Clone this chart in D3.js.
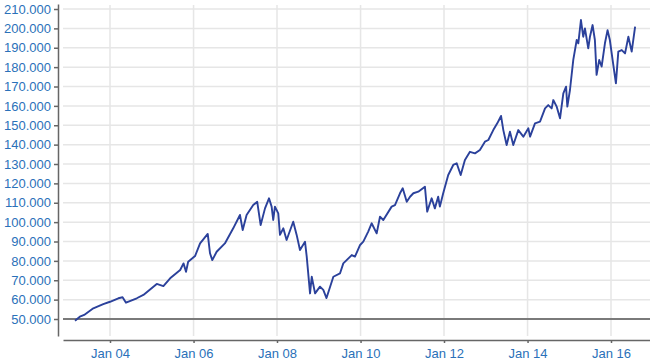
<!DOCTYPE html>
<html>
<head>
<meta charset="utf-8">
<script src="https://cdn.jsdelivr.net/npm/d3@7"></script>
<style>
  body { margin: 0; background: #fff; }
  .tick text { font-family: "Liberation Sans", Arial, sans-serif; font-size: 13px; fill: #2a71b9; }
</style>
</head>
<body>
<div id="chart"></div>
<script>
// values
const dates = [
    '2003-03-01','2003-04-12','2003-05-20','2003-08-08','2003-11-03','2004-01-01','2004-03-14','2004-04-20',
    '2004-05-20','2004-08-22','2004-10-19','2005-02-13','2005-04-12','2005-06-10','2005-09-06','2005-10-05',
    '2005-10-27','2005-11-15','2006-01-14','2006-02-27','2006-05-05','2006-05-25','2006-06-14','2006-07-22',
    '2006-10-02','2006-12-14','2007-02-11','2007-03-07','2007-04-10','2007-06-07','2007-07-12','2007-08-11',
    '2007-09-18','2007-10-23','2007-11-15','2007-11-29','2007-12-14','2008-01-12','2008-01-27','2008-02-25',
    '2008-03-25','2008-05-22','2008-06-21','2008-07-20','2008-09-02','2008-09-17','2008-10-16','2008-10-31',
    '2008-11-29','2009-01-11','2009-02-09','2009-03-09','2009-05-08','2009-07-05','2009-08-03','2009-10-16',
    '2009-11-13','2009-12-28','2010-01-25','2010-03-09','2010-04-08','2010-05-22','2010-06-20','2010-07-19',
    '2010-09-30','2010-10-29','2010-12-12','2011-01-05','2011-02-09','2011-03-10','2011-04-08','2011-05-21',
    '2011-07-18','2011-08-07','2011-09-15','2011-10-13','2011-11-11','2011-11-26','2011-12-25','2012-02-07',
    '2012-03-22','2012-04-21','2012-05-26','2012-07-02','2012-08-15','2012-09-28','2012-11-10','2012-12-24',
    '2013-01-23','2013-03-07','2013-04-11','2013-05-14','2013-06-03','2013-07-02','2013-07-31','2013-08-29',
    '2013-10-12','2013-11-25','2014-01-08','2014-01-23','2014-03-07','2014-04-20','2014-06-03','2014-07-01',
    '2014-07-31','2014-08-14','2014-09-13','2014-10-12','2014-11-10','2014-12-04','2014-12-15','2015-01-07',
    '2015-02-05','2015-03-07','2015-03-21','2015-04-13','2015-05-03','2015-05-18','2015-06-16','2015-07-01',
    '2015-07-24','2015-08-13','2015-08-28','2015-09-20','2015-10-11','2015-11-09','2015-12-02','2015-12-22',
    '2016-01-15','2016-02-13','2016-03-05','2016-04-04','2016-05-03','2016-06-01','2016-06-30','2016-07-30'
];
const values = [
    49100, 51200, 52100, 55500, 57700, 58900, 60700, 61200,
    58400, 60700, 62400, 68100, 67000, 71000, 75300, 78700,
    74400, 79600, 82500, 89000, 93900, 83900, 80400, 84700,
    89000, 96800, 103700, 95900, 103700, 108800, 110500, 98500,
    107100, 112300, 108000, 101100, 108000, 104500, 93400, 96800,
    90800, 100200, 93400, 85600, 89900, 82200, 63200, 71800,
    63200, 66700, 65000, 60800, 71800, 73500, 78700, 83000,
    82200, 88200, 89900, 95100, 99400, 94200, 102800, 101100,
    108000, 108800, 114900, 117500, 110500, 113100, 114900, 115700,
    118300, 105400, 112300, 107100, 113100, 108000, 114900, 124300,
    129500, 130400, 124300, 132100, 136300, 135500, 137200, 141500,
    142400, 147500, 151000, 154800, 147500, 139800, 146700, 139800,
    147500, 144100, 148400, 144100, 151000, 151900, 158700, 160400,
    158700, 163000, 159600, 153600, 166500, 169900, 159600, 168200,
    183700, 194000, 192300, 204300, 195700, 200000, 189700, 195700,
    201700, 194000, 176000, 183700, 180300, 192300, 199100, 194000,
    183700, 171600, 188000, 188800, 187100, 195700, 188000, 200900
];
const yTicks = [50000, 60000, 70000, 80000, 90000, 100000, 110000, 120000,
    130000, 140000, 150000, 160000, 170000, 180000, 190000, 200000, 210000];
const xTicks = ['2004-01-01', '2006-01-01', '2008-01-01', '2010-01-01',
    '2012-01-01', '2014-01-01', '2016-01-01'];
const baseValue = 50000;

const width = 650, height = 363;
const parse = d3.timeParse('%Y-%m-%d');
const data = dates.map((d, i) => ({ date: parse(d), value: values[i] }));
const xTickDates = xTicks.map(parse);

const de = d3.formatLocale({ decimal: ',', thousands: '.', grouping: [3], currency: ['', '€'] });
const fmt = de.format(',.0f');
const fmtDate = d3.timeFormat('Jan %y');

const plot = { left: 63, right: 650, top: 4, bottom: 336 };

// calibrate scales against the reference gridlines, then extend to the plot edges
const xScale = d3.scaleTime()
    .domain([xTickDates[0], xTickDates[xTickDates.length - 1]])
    .range([110, 611]);
xScale.domain([xScale.invert(plot.left), xScale.invert(plot.right)]).range([plot.left, plot.right]);

const yScale = d3.scaleLinear()
    .domain([50000, 210000])
    .range([319, 9]);
yScale.domain([yScale.invert(plot.bottom), yScale.invert(plot.top)]).range([plot.bottom, plot.top]);

const svg = d3.select('#chart').append('svg')
    .attr('width', width)
    .attr('height', height);

// gridlines
svg.append('g')
    .selectAll('line.hgrid')
    .data(yTicks)
    .join('line')
    .attr('x1', plot.left).attr('x2', plot.right)
    .attr('y1', d => yScale(d)).attr('y2', d => yScale(d))
    .attr('stroke', '#e6e6e6').attr('stroke-width', 1.5);

svg.append('g')
    .selectAll('line.vgrid')
    .data(xTickDates)
    .join('line')
    .attr('x1', d => xScale(d)).attr('x2', d => xScale(d))
    .attr('y1', 5).attr('y2', plot.bottom)
    .attr('stroke', '#e6e6e6').attr('stroke-width', 1.5);

// baseline
svg.append('line')
    .attr('x1', plot.left).attr('x2', plot.right)
    .attr('y1', yScale(baseValue)).attr('y2', yScale(baseValue))
    .attr('stroke', '#7a7a7a').attr('stroke-width', 2);

// y axis
const yAxisG = svg.append('g')
    .attr('transform', 'translate(58,0)')
    .call(d3.axisLeft(yScale).tickValues(yTicks).tickFormat(fmt).tickSize(4).tickPadding(3).tickSizeOuter(0));
yAxisG.select('.domain').attr('stroke', '#666').attr('stroke-width', 1.5);
yAxisG.selectAll('.tick line').attr('stroke', '#666').attr('stroke-width', 1.5);

// x axis
const xAxisG = svg.append('g')
    .attr('transform', 'translate(0,340)')
    .call(d3.axisBottom(xScale).tickValues(xTickDates).tickFormat(fmtDate).tickSize(3).tickPadding(6).tickSizeOuter(0));
xAxisG.select('.domain').attr('stroke', '#666').attr('stroke-width', 1.5);
xAxisG.selectAll('.tick line').attr('stroke', '#666').attr('stroke-width', 1.5);

// series line
const line = d3.line()
    .x(d => xScale(d.date))
    .y(d => yScale(d.value));

svg.append('path')
    .datum(data)
    .attr('fill', 'none')
    .attr('stroke', '#2b419b')
    .attr('stroke-width', 1.9)
    .attr('stroke-linejoin', 'round')
    .attr('d', line);
</script>
</body>
</html>
